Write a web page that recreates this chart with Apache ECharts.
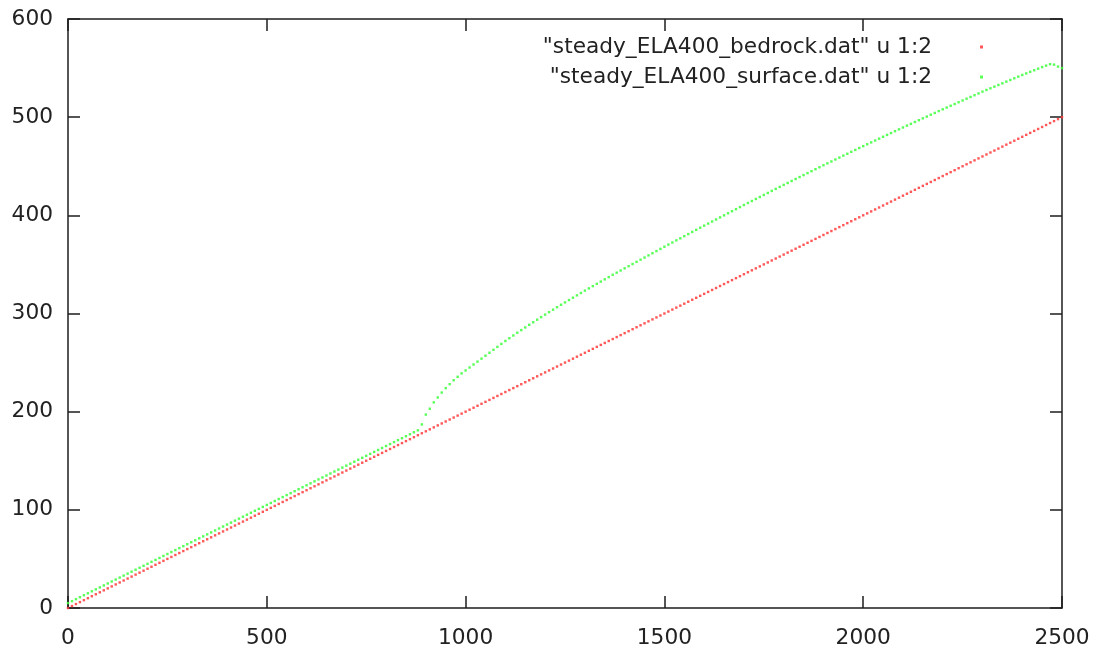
<!DOCTYPE html>
<html>
<head>
<meta charset="utf-8">
<script src="https://cdn.jsdelivr.net/npm/echarts@6/dist/echarts.min.js"></script>
<style>
html,body{margin:0;padding:0;background:#fff;}
#chart{width:1109px;height:650px;}
</style>
</head>
<body>
<div id="chart"></div>
<script>
// x positions of the data points (column 1 of the .dat files)
const xs = [
0,10,20,30,40,50,60,70,80,90,
100,110,120,130,140,150,160,170,180,190,
200,210,220,230,240,250,260,270,280,290,
300,310,320,330,340,350,360,370,380,390,
400,410,420,430,440,450,460,470,480,490,
500,510,520,530,540,550,560,570,580,590,
600,610,620,630,640,650,660,670,680,690,
700,710,720,730,740,750,760,770,780,790,
800,810,820,830,840,850,860,870,880,890,
900,910,920,930,940,950,960,970,980,990,
1000,1010,1020,1030,1040,1050,1060,1070,1080,1090,
1100,1110,1120,1130,1140,1150,1160,1170,1180,1190,
1200,1210,1220,1230,1240,1250,1260,1270,1280,1290,
1300,1310,1320,1330,1340,1350,1360,1370,1380,1390,
1400,1410,1420,1430,1440,1450,1460,1470,1480,1490,
1500,1510,1520,1530,1540,1550,1560,1570,1580,1590,
1600,1610,1620,1630,1640,1650,1660,1670,1680,1690,
1700,1710,1720,1730,1740,1750,1760,1770,1780,1790,
1800,1810,1820,1830,1840,1850,1860,1870,1880,1890,
1900,1910,1920,1930,1940,1950,1960,1970,1980,1990,
2000,2010,2020,2030,2040,2050,2060,2070,2080,2090,
2100,2110,2120,2130,2140,2150,2160,2170,2180,2190,
2200,2210,2220,2230,2240,2250,2260,2270,2280,2290,
2300,2310,2320,2330,2340,2350,2360,2370,2380,2390,
2400,2410,2420,2430,2440,2450,2460,2470,2480,2490,
2500
];

// "steady_ELA400_bedrock.dat" u 1:2
const bedrock = [
0,2,4,6,8,10,12,14,16,18,
20,22,24,26,28,30,32,34,36,38,
40,42,44,46,48,50,52,54,56,58,
60,62,64,66,68,70,72,74,76,78,
80,82,84,86,88,90,92,94,96,98,
100,102,104,106,108,110,112,114,116,118,
120,122,124,126,128,130,132,134,136,138,
140,142,144,146,148,150,152,154,156,158,
160,162,164,166,168,170,172,174,176,178,
180,182,184,186,188,190,192,194,196,198,
200,202,204,206,208,210,212,214,216,218,
220,222,224,226,228,230,232,234,236,238,
240,242,244,246,248,250,252,254,256,258,
260,262,264,266,268,270,272,274,276,278,
280,282,284,286,288,290,292,294,296,298,
300,302,304,306,308,310,312,314,316,318,
320,322,324,326,328,330,332,334,336,338,
340,342,344,346,348,350,352,354,356,358,
360,362,364,366,368,370,372,374,376,378,
380,382,384,386,388,390,392,394,396,398,
400,402,404,406,408,410,412,414,416,418,
420,422,424,426,428,430,432,434,436,438,
440,442,444,446,448,450,452,454,456,458,
460,462,464,466,468,470,472,474,476,478,
480,482,484,486,488,490,492,494,496,498,
500
];

// "steady_ELA400_surface.dat" u 1:2
const surface = [
5,7,9,11,13,15,17,19,21,23,
25,27,29,31,33,35,37,39,41,43,
45,47,49,51,53,55,57,59,61,63,
65,67,69,71,73,75,77,79,81,83,
85,87,89,91,93,95,97,99,101,103,
105,107,109,111,113,115,117,119,121,123,
125,127,129,131,133,135,137,139,141,143,
145,147,149,151,153,155,157,159,161,163,
165,167,169,171,173,175,177,179,181,187,
197,203,209.5,214.5,219.5,224,228,232,235.5,239,
242,245,248,251,254,257,260,263,266,269,
272,274.8,277.6,280.4,283.1,285.8,288.5,291.1,293.7,296.3,
298.9,301.4,303.9,306.4,308.9,311.3,313.7,316.1,318.5,320.9,
323.3,325.6,327.9,330.2,332.5,334.8,337.1,339.4,341.6,343.8,
346,348.2,350.4,352.6,354.8,357,359.2,361.4,363.6,365.8,
368,370.2,372.3,374.5,376.6,378.8,380.9,383.1,385.2,387.4,
389.5,391.6,393.7,395.8,397.9,400,402.1,404.2,406.3,408.4,
410.5,412.6,414.6,416.7,418.7,420.8,422.8,424.9,426.9,429,
431,433,435,437,439,441,443,445,447,449,
451,453,454.9,456.9,458.8,460.8,462.7,464.7,466.6,468.6,
470.5,472.4,474.3,476.2,478.1,480,481.9,483.8,485.7,487.6,
489.5,491.4,493.2,495.1,496.9,498.8,500.6,502.5,504.3,506.2,
508,509.8,511.6,513.4,515.2,517,518.8,520.6,522.4,524.2,
526,527.7,529.4,531.1,532.8,534.5,536.2,537.9,539.6,541.3,
543,544.6,546.2,547.8,549.4,551,552.5,554,553.5,551.5,
550
];

const seriesNames = ['"steady_ELA400_bedrock.dat" u 1:2', '"steady_ELA400_surface.dat" u 1:2'];
const xTicks = {min: 0, max: 2500, interval: 500};
const yTicks = {min: 0, max: 600, interval: 100};

const FONT = 'DejaVu Sans';
const FS = 21.7;
const AX = '#1e1e1e';
const textColor = '#222222';

const chart = echarts.init(document.getElementById('chart'), null, {renderer: 'canvas'});

function baseAxis(extra) {
  return Object.assign({
    type: 'value',
    axisLine: {show: true, onZero: false, lineStyle: {color: AX, width: 1.5}},
    axisTick: {show: true, inside: true, length: 12, lineStyle: {color: AX, width: 1.5}},
    splitLine: {show: false},
    minorTick: {show: false}
  }, extra);
}

const plain = v => String(v);

const option = {
  animation: false,
  backgroundColor: '#ffffff',
  grid: {left: 68, right: 47, top: 19, bottom: 42, containLabel: false, outerBoundsMode: 'none'},
  legend: {
    orient: 'vertical',
    right: 126,
    top: 36,
    padding: 0,
    align: 'right',
    itemWidth: 3,
    itemHeight: 3,
    itemGap: 8,
    icon: 'rect',
    selectedMode: false,
    data: seriesNames,
    textStyle: {fontFamily: FONT, fontSize: FS, lineHeight: 22, color: textColor, padding: [0, 43, 0, 0]}
  },
  xAxis: [
    baseAxis({position: 'bottom', min: xTicks.min, max: xTicks.max, interval: xTicks.interval,
      axisLabel: {show: true, margin: 19, formatter: plain, fontFamily: FONT, fontSize: FS, color: textColor}}),
    baseAxis({position: 'top', min: xTicks.min, max: xTicks.max, interval: xTicks.interval,
      axisLabel: {show: false}})
  ],
  yAxis: [
    baseAxis({position: 'left', min: yTicks.min, max: yTicks.max, interval: yTicks.interval,
      axisLabel: {show: true, margin: 15, formatter: plain, fontFamily: FONT, fontSize: FS, color: textColor}}),
    baseAxis({position: 'right', min: yTicks.min, max: yTicks.max, interval: yTicks.interval,
      axisLabel: {show: false}})
  ],
  series: [
    {
      name: seriesNames[0],
      type: 'scatter',
      xAxisIndex: 0, yAxisIndex: 0,
      symbol: 'rect',
      symbolSize: 2.4,
      itemStyle: {color: '#ff3a3a', opacity: 0.85},
      silent: true,
      data: xs.map((x, i) => [x, bedrock[i]])
    },
    {
      name: seriesNames[1],
      type: 'scatter',
      xAxisIndex: 0, yAxisIndex: 0,
      symbol: 'rect',
      symbolSize: 2.4,
      itemStyle: {color: '#3aff3a', opacity: 0.85},
      silent: true,
      data: xs.map((x, i) => [x, surface[i]])
    }
  ]
};

chart.setOption(option);
</script>
</body>
</html>
